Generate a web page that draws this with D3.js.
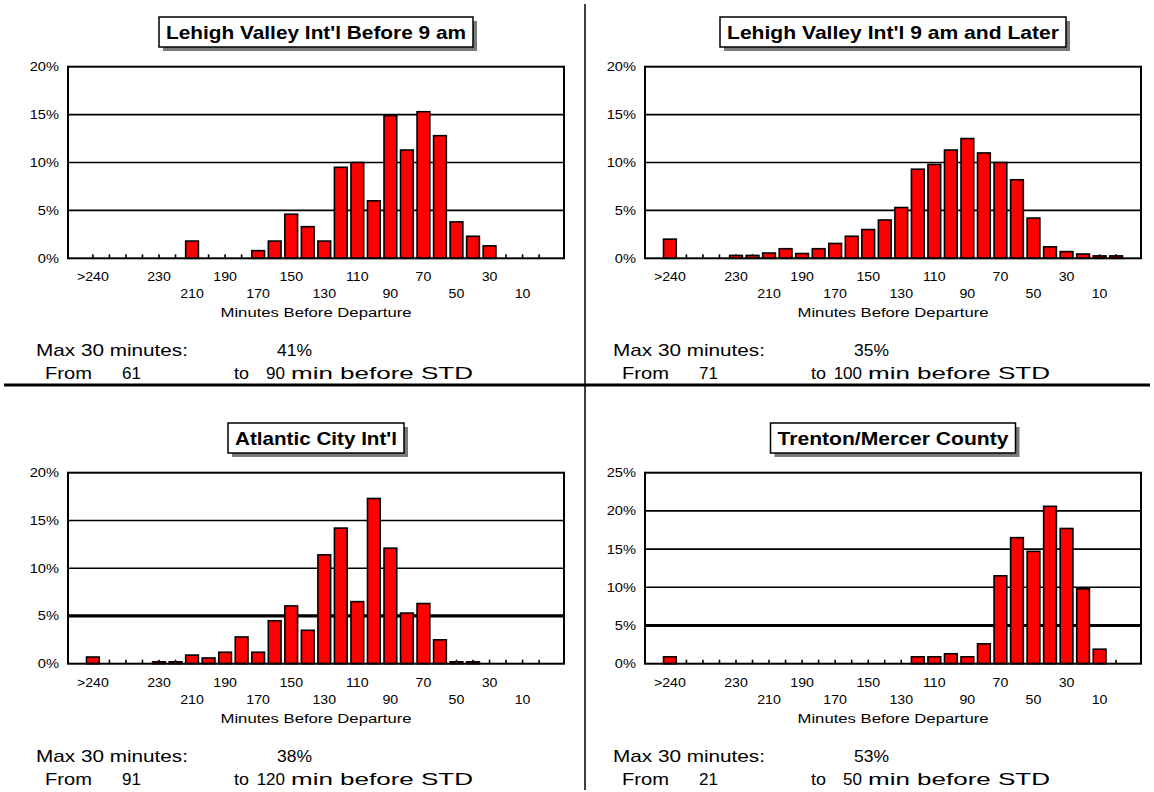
<!DOCTYPE html>
<html><head><meta charset="utf-8">
<script src="https://cdn.jsdelivr.net/npm/d3@7"></script>
<style>body{margin:0;background:#fff}svg{display:block}text{font-family:"Liberation Sans",Arial,sans-serif;fill:#000}</style>
</head><body><svg id="c" width="1154" height="792"></svg>
<script>
// ---- data ----
const categories = [">240","","","","230","220","210","200","190","180","170","160","150","140","130","120","110","100","90","80","70","60","50","40","30","20","10","0"];
const titles = ["Lehigh Valley Int'l Before 9 am","Lehigh Valley Int'l  9 am and Later","Atlantic City Int'l","Trenton/Mercer County"];
const lvBefore9 = [0,0,0,0,0,0,1.8,0,0,0,0.8,1.8,4.6,3.3,1.8,9.5,10.0,6.0,14.9,11.3,15.3,12.8,3.8,2.3,1.3,0,0,0];
const lvAfter9  = [2.0,0,0,0,0.3,0.3,0.55,1.0,0.5,1.0,1.55,2.3,3.0,4.0,5.3,9.3,9.8,11.3,12.5,11.0,10.0,8.2,4.2,1.2,0.7,0.45,0.25,0.25];
const acy       = [0.7,0,0,0,0.2,0.2,0.9,0.6,1.2,2.8,1.2,4.5,6.05,3.5,11.4,14.2,6.5,17.3,12.1,5.3,6.3,2.5,0.2,0.2,0,0,0,0];
const trenton   = [0.9,0,0,0,0,0,0,0,0,0,0,0,0,0,0,0.9,0.9,1.3,0.9,2.6,11.5,16.5,14.7,20.6,17.7,9.8,1.9,0];
const yMaxes = [20,20,20,25];
const maxPct = ["41%","35%","38%","53%"];
const fromMin = ["61","71","91","21"];
const toMin = ["90","100","120","50"];
const xTitle = "Minutes Before Departure";

// ---- layout ----
const svg = d3.select("#c");
svg.append("rect").attr("width",1154).attr("height",792).attr("fill","#fff");
const series = [lvBefore9, lvAfter9, acy, trenton];
const W = 496;
const origins = [[68,66.7,191.6],[645,66.7,191.6],[68,472.7,191],[645,472.7,191]];
const titleW = [300,332,162,231];

function txt(g,x,y,s,o){
  o=o||{};
  const t=g.append("text").attr("x",x).attr("y",y).text(s)
    .style("font-size",(o.size||12)+"px").style("font-weight",o.weight||"normal")
    .attr("text-anchor",o.anchor||"start");
  if(o.width){t.attr("textLength",o.width).attr("lengthAdjust","spacingAndGlyphs");}
  if(o.sx){t.attr("x",0).attr("y",0).attr("transform",`translate(${x},${y}) scale(${o.sx},1)`);}
  return t;
}

series.forEach((vals,p)=>{
  const [x0,y0,H] = origins[p];
  const g = svg.append("g").attr("transform",`translate(${x0},${y0})`);
  const x = d3.scaleBand().domain(d3.range(categories.length)).range([0,W]).paddingInner(0.23).paddingOuter(1.12);
  const y = d3.scaleLinear().domain([0,yMaxes[p]]).range([H,0]);
  const yt = d3.range(0,yMaxes[p]+0.1,5);
  // gridlines
  g.selectAll("line.grid").data(yt.filter(v=>v>0 && v<yMaxes[p])).join("line")
    .attr("x1",0).attr("x2",W).attr("y1",d=>y(d)).attr("y2",d=>y(d))
    .attr("stroke","#000").attr("stroke-width",d=>(p>=2&&d===5)?3.2:1.6);
  // y labels
  yt.forEach(v=>txt(g,-9,y(v)+4.5,v+"%",{size:12,anchor:"end",sx:1.22}));
  // category ticks
  g.selectAll("line.tk").data(d3.range(categories.length)).join("line")
    .attr("x1",i=>x(i)+x.bandwidth()/2).attr("x2",i=>x(i)+x.bandwidth()/2)
    .attr("y1",H).attr("y2",H-4).attr("stroke","#000").attr("stroke-width",1.6);
  // bars
  g.selectAll("rect.bar").data(vals.map((v,i)=>({v,i})).filter(d=>d.v>0)).join("rect")
    .attr("x",d=>x(d.i)).attr("width",x.bandwidth())
    .attr("y",d=>y(d.v)).attr("height",d=>H-y(d.v))
    .attr("fill","#ff0000").attr("stroke","#000").attr("stroke-width",1.6);
  // plot frame
  g.append("rect").attr("width",W).attr("height",H).attr("fill","none").attr("stroke","#000").attr("stroke-width",2);
  // x labels (every 2nd, staggered)
  categories.forEach((c,i)=>{
    if(i%2!==0||!c) return;
    const row=(i/2)%2;
    txt(g,x(i)+x.bandwidth()/2,H+23+row*17,c,{size:12,anchor:"middle",sx:1.18});
  });
  txt(g,W/2,H+59,xTitle,{size:12.5,anchor:"middle",width:191});
  // title box
  const tw=titleW[p], bx=W/2-tw/2-7, by=-49.7, bw=tw+14, bh=30;
  g.append("rect").attr("x",bx+4).attr("y",by+4).attr("width",bw).attr("height",bh).attr("fill","#7a7a7a");
  g.append("rect").attr("x",bx).attr("y",by).attr("width",bw).attr("height",bh).attr("fill","#fff").attr("stroke","#000").attr("stroke-width",1.5);
  txt(g,W/2,by+22,titles[p],{size:19,weight:"bold",anchor:"middle",width:tw});
  // stats
  const sx = x0-32, sy = y0+289;
  txt(g,-32,289,"Max 30 minutes:",{size:17,width:152});
  txt(g,209,289,maxPct[p],{size:17,width:35});
  txt(g,-23,312,"From",{size:17,width:47});
  txt(g,73,312,fromMin[p],{size:17,anchor:"end"});
  txt(g,166,312,"to",{size:17,width:15});
  txt(g,217,312,toMin[p],{size:17,anchor:"end"});
  txt(g,223,312,"min before STD",{size:17,width:182});
});
// separators
svg.append("line").attr("x1",585).attr("x2",585).attr("y1",4).attr("y2",790).attr("stroke","#000").attr("stroke-width",1.5);
svg.append("line").attr("x1",4).attr("x2",1150).attr("y1",385).attr("y2",385).attr("stroke","#000").attr("stroke-width",3);
</script></body></html>
